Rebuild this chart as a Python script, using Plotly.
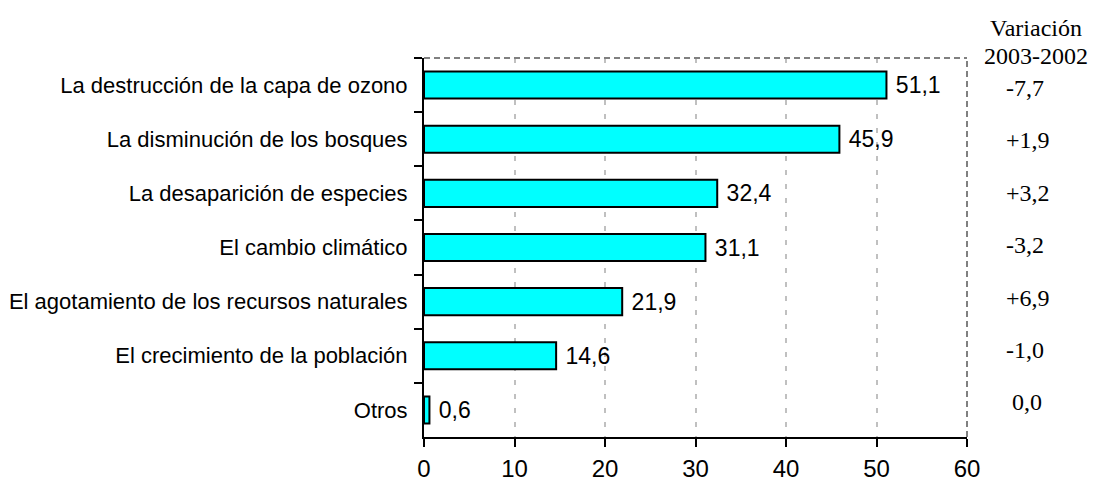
import plotly.graph_objects as go

categories = [
    "La destrucción de la capa de ozono",
    "La disminución de los bosques",
    "La desaparición de especies",
    "El cambio climático",
    "El agotamiento de los recursos naturales",
    "El crecimiento de la población",
    "Otros",
]
values = [51.1, 45.9, 32.4, 31.1, 21.9, 14.6, 0.6]
variation = ["-7,7", "+1,9", "+3,2", "-3,2", "+6,9", "-1,0", "0,0"]
variation_title = ["Variación", "2003-2002"]
x_ticks = [0, 10, 20, 30, 40, 50, 60]

# page body adds an 8px margin; work in reference pixel coordinates
OFF = 8
REF_W, REF_H = 1098, 488
W, H = REF_W - OFF, REF_H - OFF
plot_l, plot_r, plot_t, plot_b = 424, 967, 58, 437  # reference pixels
ml, mr = plot_l - OFF, REF_W - plot_r
mt, mb = plot_t - OFF, REF_H - plot_b
pw, ph = plot_r - plot_l, plot_b - plot_t

SANS = "Liberation Sans, Arial, sans-serif"
SERIF = "Liberation Serif, Times New Roman, serif"

fig = go.Figure()
fig.add_trace(go.Bar(
    y=categories, x=values, orientation="h",
    marker=dict(color="#00FFFF", line=dict(color="#000000", width=2)),
    width=0.5,
    texttemplate="\u00a0%{x:.1f}", textposition="outside", constraintext="none",
    textfont=dict(family=SANS, size=23, color="#000000"),
    cliponaxis=False,
))

def xdom(px):
    return (px - plot_l) / pw

def ydom(py):
    return 1 - (py - plot_t) / ph

annotations = []
var_top, var_step = 88, 52.4
for i, v in enumerate(variation):
    txt = v if v[0] in "+-" else "\u00a0" + v
    annotations.append(dict(
        x=xdom(1004), xref="x domain", y=ydom(var_top + i * var_step), yref="y domain",
        text=txt, showarrow=False, xanchor="left", yanchor="middle",
        font=dict(family=SERIF, size=24, color="#000000"),
    ))
for j, t in enumerate(variation_title):
    annotations.append(dict(
        x=xdom(1036), xref="x domain", y=ydom(28 + j * 28), yref="y domain",
        text=t, showarrow=False, xanchor="center", yanchor="middle",
        font=dict(family=SERIF, size=24, color="#000000"),
    ))

border = dict(color="#808080", width=2, dash="6px,4px")
shapes = [
    dict(type="line", xref="x domain", yref="y domain", x0=0, x1=1, y0=1, y1=1, line=border),
    dict(type="line", xref="x domain", yref="y domain", x0=1, x1=1, y0=0, y1=1, line=border),
]

fig.update_layout(
    width=W, height=H,
    margin=dict(l=ml, r=mr, t=mt, b=mb, pad=0),
    plot_bgcolor="#FFFFFF", paper_bgcolor="#FFFFFF",
    separators=",.",
    showlegend=False,
    annotations=annotations,
    shapes=shapes,
    font=dict(family=SANS, color="#000000"),
)
fig.update_xaxes(
    range=[0, 60], tickvals=x_ticks, ticktext=[str(t) for t in x_ticks],
    showgrid=True, gridcolor="#C0C0C0", gridwidth=2, griddash="5px,9px",
    showline=True, linecolor="#000000", linewidth=2,
    ticks="outside", ticklen=8, tickwidth=2, tickcolor="#000000",
    tickfont=dict(size=24, family=SANS),
    ticklabelstandoff=1,
    zeroline=False, fixedrange=True, automargin=False,
)
fig.update_yaxes(
    autorange="reversed", categoryorder="array", categoryarray=categories,
    showgrid=False, showline=True, linecolor="#000000", linewidth=2,
    ticks="outside", ticklen=8, tickwidth=2, tickcolor="#000000", tickson="boundaries",
    tickfont=dict(size=22, family=SANS),
    ticklabelstandoff=10,
    zeroline=False, fixedrange=True, automargin=False,
)

fig.write_html("out.html")
